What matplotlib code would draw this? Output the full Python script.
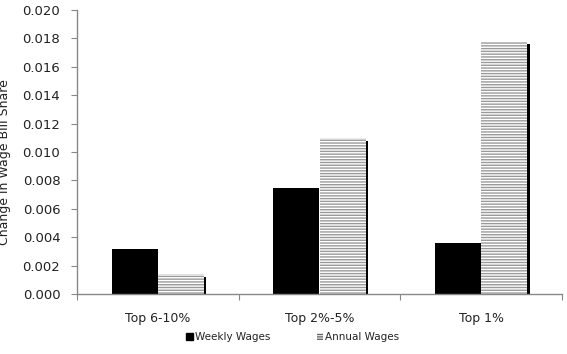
import matplotlib
matplotlib.use('Agg')
import matplotlib.pyplot as plt
from matplotlib.patches import Patch
import numpy as np

categories = ['Top 6-10%', 'Top 2%-5%', 'Top 1%']
weekly = [0.0032, 0.0075, 0.0036]
annual = [0.0014, 0.0110, 0.0178]
yticks = [0.000, 0.002, 0.004, 0.006, 0.008, 0.010, 0.012, 0.014, 0.016, 0.018, 0.020]

plt.rcParams['font.family'] = 'DejaVu Sans'
plt.rcParams['hatch.color'] = '#9a9a9a'
plt.rcParams['hatch.linewidth'] = 1.0

fig = plt.figure(figsize=(5.67, 3.54), dpi=100)
ax = fig.add_axes([77/567, 1-294/354, (562-77)/567, (294-10)/354])

x = np.arange(len(categories))
w = 0.285
ax.bar(x - w/2, weekly, w, color='black', zorder=2)
# dark right edge of the hatched bars (shadow look)
ax.bar(x + w + 0.008, np.array(annual) - 0.00022, 0.016, color='black', zorder=1)
ax.bar(x + w/2, annual, w, color='white', edgecolor='#9a9a9a', hatch='------',
       linewidth=0, zorder=2)

ax.set_xlim(-0.5, 2.5)
ax.set_ylim(0, 0.020)
ax.set_yticks(yticks)
ax.set_yticklabels(['%.3f' % v for v in yticks], fontsize=9.5, color='#222222')
ax.set_xticks([-0.5, 0.5, 1.5, 2.5])
ax.set_xticklabels([])
ax.set_xticks(x, minor=True)
ax.set_xticklabels(categories, minor=True, fontsize=9, color='#222222')
ax.tick_params(axis='x', which='minor', length=0, pad=13)
ax.tick_params(axis='x', which='major', length=4, color='#888888', direction='out')
ax.tick_params(axis='y', length=4, color='#888888', direction='out', pad=8)

for s in ['top', 'right']:
    ax.spines[s].set_visible(False)
for s in ['left', 'bottom']:
    ax.spines[s].set_color('#888888')
    ax.spines[s].set_linewidth(1)

fig.text(5/567, 1-162/354, 'Change in Wage Bill Share', rotation=90,
         ha='center', va='center', fontsize=9, color='#222222')

handles = [Patch(facecolor='black', edgecolor='black', label='Weekly Wages'),
           Patch(facecolor='white', edgecolor='#666666', hatch='-------', linewidth=0,
                 label='Annual Wages')]
fig.legend(handles=handles, loc='center', bbox_to_anchor=(293/567, 1-337/354),
           ncol=2, frameon=False, fontsize=7.5, handlelength=0.6, handleheight=0.6,
           handletextpad=0.2, columnspacing=4.5, labelcolor='#222222')

fig.savefig('out.png', dpi=100)
